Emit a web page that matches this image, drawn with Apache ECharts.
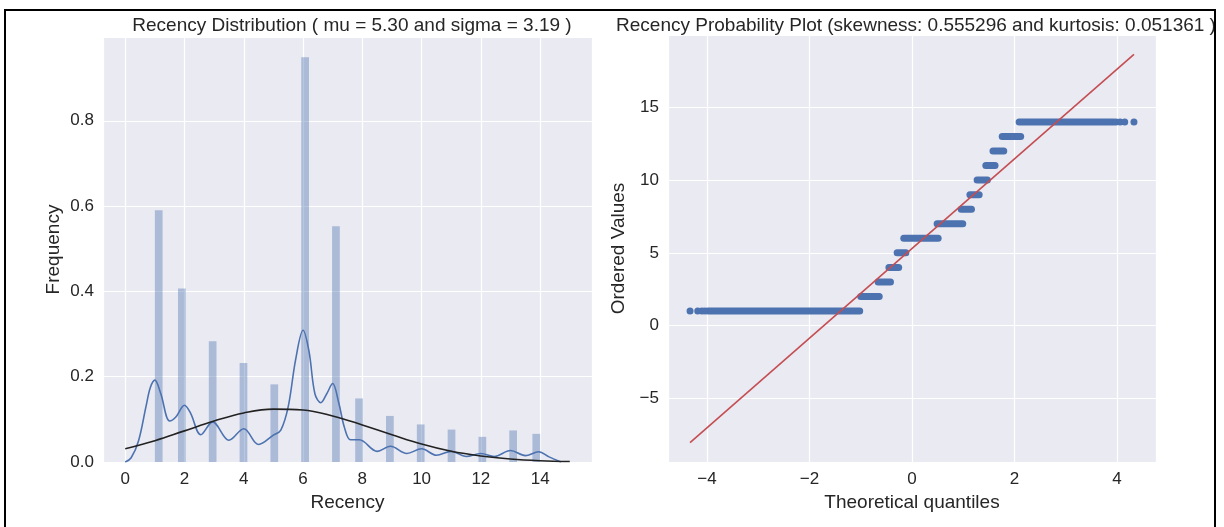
<!DOCTYPE html>
<html>
<head>
<meta charset="utf-8">
<script src="https://cdn.jsdelivr.net/npm/echarts@6/dist/echarts.min.js"></script>
<style>
  html, body { margin: 0; padding: 0; background: #fff; }
  #chart { width: 1224px; height: 527px; }
</style>
</head>
<body>
<div id="chart"></div>
<script>
// histogram of Recency (density), one bin per recency value
const binLeft = [1.00, 1.78, 2.82, 3.86, 4.90, 5.94, 6.98, 7.76, 8.80, 9.84, 10.88, 11.92, 12.96, 13.74];
const binWidth = 0.26;
const binDensity = [0.590, 0.407, 0.283, 0.232, 0.182, 0.949, 0.553, 0.149, 0.108, 0.088, 0.076, 0.059, 0.074, 0.066];

// kde curve
const kdeX = [0.0, 0.2, 0.45, 0.7, 0.85, 1.0, 1.2, 1.5, 1.7, 2.0, 2.2, 2.55, 2.95, 3.5, 4.0, 4.5, 5.0, 5.25, 5.5, 5.75, 6.0, 6.2, 6.4, 6.6, 6.8, 7.0, 7.2, 7.4, 7.6, 7.9, 8.5, 8.95, 9.5, 10.0, 10.5, 11.0, 11.5, 12.0, 12.45, 13.0, 13.5, 13.95, 14.3, 14.7];
const kdeY = [0.0, 0.01, 0.05, 0.13, 0.175, 0.192, 0.16, 0.096, 0.105, 0.133, 0.115, 0.064, 0.094, 0.051, 0.078, 0.041, 0.063, 0.075, 0.13, 0.24, 0.309, 0.26, 0.16, 0.139, 0.16, 0.184, 0.14, 0.08, 0.052, 0.052, 0.025, 0.037, 0.02, 0.031, 0.016, 0.025, 0.013, 0.02, 0.013, 0.027, 0.015, 0.024, 0.012, 0.0];

// fitted normal curve (mu = 5.30, sigma = 3.19)
const normX = [0, 1, 2, 3, 4, 5, 6, 7, 8, 9, 10, 11, 12, 13, 14, 15];
const normY = [0.031, 0.050, 0.073, 0.096, 0.115, 0.124, 0.122, 0.108, 0.087, 0.064, 0.042, 0.025, 0.014, 0.007, 0.003, 0.001];

// probability plot: each recency level forms a dense run of points
const qqLevel = [1, 2, 3, 4, 5, 6, 7, 8, 9, 10, 11, 12, 13, 14];
const qqStart = [-3.98, -1.00, -0.66, -0.45, -0.29, -0.16, 0.49, 0.96, 1.13, 1.27, 1.44, 1.58, 1.76, 2.09];
const qqEnd = [-1.02, -0.64, -0.42, -0.26, -0.12, 0.51, 0.99, 1.16, 1.31, 1.47, 1.62, 1.79, 2.12, 3.93];
// single points at the tails
const qqDotX = [-4.33, -4.18, -4.10, -4.04, 3.98, 4.06, 4.15, 4.33];
const qqDotY = [1, 1, 1, 1, 14, 14, 14, 14];
// least squares line
const fitX = [-4.33, 4.33];
const fitY = [-8.04, 18.64];

const FONT = 'Liberation Sans, Arial, sans-serif';
const TXT = '#262626';
const fmt = v => String(v).replace('-', '\u2212');

function axisStyle(extra) {
    return Object.assign({
        axisLine: { show: false },
        axisTick: { show: false },
        splitLine: { show: true, lineStyle: { color: '#ffffff', width: 1.2 } },
        axisLabel: { color: TXT, fontSize: 17, fontFamily: FONT, margin: 9, showMinLabel: false, showMaxLabel: false },
        nameLocation: 'middle',
        nameTextStyle: { color: TXT, fontSize: 19, fontFamily: FONT }
    }, extra);
}

const chart = echarts.init(document.getElementById('chart'));

const option = {
    animation: false,
    backgroundColor: '#ffffff',
    graphic: [{
        type: 'rect', silent: true, z: 100,
        shape: { x: 5, y: 10, width: 1210, height: 600 },
        style: { fill: null, stroke: '#000', lineWidth: 2 }
    }],
    title: [
        { text: 'Recency Distribution ( mu = 5.30 and sigma = 3.19 )', left: 347, top: 11, textAlign: 'center',
          textStyle: { color: TXT, fontSize: 19, fontWeight: 'normal', fontFamily: FONT } },
        { text: 'Recency Probability Plot (skewness: 0.555296 and kurtosis: 0.051361 )', left: 911, top: 11, textAlign: 'center',
          textStyle: { color: TXT, fontSize: 19, fontWeight: 'normal', fontFamily: FONT } }
    ],
    grid: [
        { left: 103, top: 37, width: 489, height: 425, backgroundColor: '#EAEAF2', show: true, borderWidth: 0 },
        { left: 668, top: 35, width: 488, height: 427, backgroundColor: '#EAEAF2', show: true, borderWidth: 0 }
    ],
    xAxis: [
        axisStyle({ type: 'value', gridIndex: 0, min: -0.75, max: 15.75, splitNumber: 8, name: 'Recency', nameGap: 28 }),
        axisStyle({ type: 'value', gridIndex: 1, min: -4.76, max: 4.76, splitNumber: 5, name: 'Theoretical quantiles', nameGap: 28 })
    ],
    yAxis: [
        axisStyle({ type: 'value', gridIndex: 0, min: 0, max: 0.9965, splitNumber: 5, name: 'Frequency', nameGap: 40 }),
        axisStyle({ type: 'value', gridIndex: 1, min: -9.37, max: 19.97, splitNumber: 6, name: 'Ordered Values', nameGap: 40 })
    ],
    series: [
        {
            type: 'custom', xAxisIndex: 0, yAxisIndex: 0,
            data: binLeft.map((l, i) => [l, l + binWidth, binDensity[i]]),
            encode: { x: [0, 1], y: 2 },
            renderItem: function (params, api) {
                const p0 = api.coord([api.value(0), api.value(2)]);
                const p1 = api.coord([api.value(1), 0]);
                return {
                    type: 'rect',
                    shape: { x: p0[0], y: p0[1], width: p1[0] - p0[0], height: p1[1] - p0[1] },
                    style: { fill: '#4C72B0', opacity: 0.4 }
                };
            }
        },
        {
            type: 'line', xAxisIndex: 0, yAxisIndex: 0, smooth: 0.35, showSymbol: false,
            data: kdeX.map((x, i) => [x, kdeY[i]]),
            lineStyle: { color: '#4C72B0', width: 1.6 }
        },
        {
            type: 'line', xAxisIndex: 0, yAxisIndex: 0, smooth: 0.4, showSymbol: false,
            data: normX.map((x, i) => [x, normY[i]]),
            lineStyle: { color: '#222222', width: 1.6 }
        },
        {
            type: 'custom', xAxisIndex: 1, yAxisIndex: 1,
            data: qqLevel.map((lv, i) => [qqStart[i], qqEnd[i], lv]),
            encode: { x: [0, 1], y: 2 },
            renderItem: function (params, api) {
                const a = api.coord([api.value(0), api.value(2)]);
                const b = api.coord([api.value(1), api.value(2)]);
                return {
                    type: 'line',
                    shape: { x1: a[0], y1: a[1], x2: b[0], y2: b[1] },
                    style: { stroke: '#4C72B0', lineWidth: 7, lineCap: 'round' }
                };
            }
        },
        {
            type: 'scatter', xAxisIndex: 1, yAxisIndex: 1, symbolSize: 7,
            data: qqDotX.map((x, i) => [x, qqDotY[i]]),
            itemStyle: { color: '#4C72B0', opacity: 1 }
        },
        {
            type: 'line', xAxisIndex: 1, yAxisIndex: 1, showSymbol: false, z: 5,
            data: fitX.map((x, i) => [x, fitY[i]]),
            lineStyle: { color: '#C44E52', width: 1.6 }
        }
    ]
};

// number formats as matplotlib draws them
option.yAxis[0].axisLabel.formatter = v => v.toFixed(1);
option.yAxis[0].axisLabel.showMinLabel = true;
option.xAxis[0].axisLabel.formatter = fmt;
option.xAxis[1].axisLabel.formatter = fmt;
option.yAxis[1].axisLabel.formatter = fmt;

chart.setOption(option);
</script>
</body>
</html>
